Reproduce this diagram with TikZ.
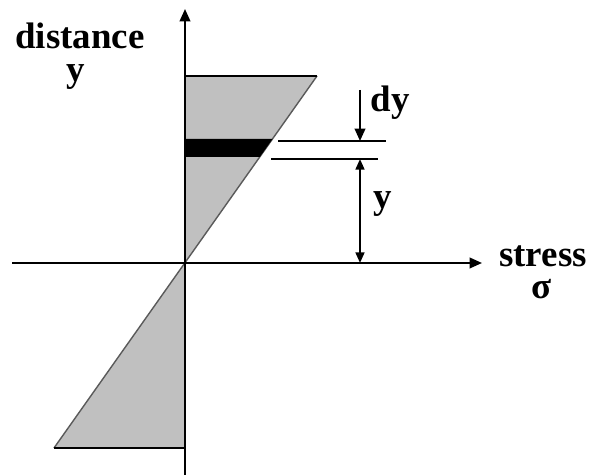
\documentclass[tikz,border=0pt]{standalone}
\usepackage{fontspec}
\setmainfont{Liberation Serif}
\usepackage{tikz}
\usetikzlibrary{arrows.meta, positioning, calc}
\definecolor{wedgegray}{RGB}{192,192,192}
\definecolor{edgegray}{RGB}{90,90,90}

\tikzset{
    axisline/.style={line width=1.1pt, -{Triangle[length=7pt,width=6pt]}},
    dimline/.style={line width=1.1pt, {Triangle[length=6pt,width=5pt]}-{Triangle[length=6pt,width=5pt]}},
    tickline/.style={line width=1.1pt},
    lbl/.style={font=\fontsize{21}{24}\selectfont\bfseries, inner sep=0pt, anchor=base},
    toplbl/.style={lbl, text depth=0pt},
    lowlbl/.style={lbl, text height=1ex}
}

\begin{document}
\begin{tikzpicture}[x=0.02cm, y=-0.02cm]
    \useasboundingbox (0,0) rectangle (592,475);
    % Axes points
    \coordinate (O) at (185,263);
    \coordinate (ytop) at (185,9);
    \coordinate (ybot) at (185,475);
    \coordinate (xleft) at (12,263);
    \coordinate (xright) at (482,263);
    \coordinate (T) at (317,76);
    \coordinate (Ttop) at (185,76);
    \coordinate (B) at (54,448);
    \coordinate (Bbot) at (185,448);

    % Stress wedges
    \fill[wedgegray] (O) -- (T) -- (Ttop) -- cycle;
    \fill[wedgegray] (O) -- (B) -- (Bbot) -- cycle;
    \draw[edgegray, line width=0.8pt] (B) -- (T);
    \draw[tickline] (Ttop) -- (T);
    \draw[tickline] (B) -- (Bbot);

    % Strip dy
    \fill[black] (185,139) -- (272.5,139) -- (259.8,157) -- (185,157) -- cycle;

    % Axes
    \draw[axisline] (ybot) -- (ytop);
    \draw[axisline] (xleft) -- (xright);

    % Dimension lines
    \coordinate (L1a) at (278,141);
    \coordinate (L1b) at (386,141);
    \coordinate (L2a) at (271,159);
    \coordinate (L2b) at (378,159);
    \draw[tickline] (L1a) -- (L1b);
    \draw[tickline] (L2a) -- (L2b);
    \coordinate (dystart) at (360,90);
    \coordinate (dyend) at (360,141);
    \draw[axisline] (dystart) -- (dyend);
    \coordinate (ya) at (360,159);
    \coordinate (yb) at (360,263);
    \draw[dimline] (ya) -- (yb);

    % Labels
    \node[toplbl] (distance) at (80,49) {distance};
    \node[lowlbl] (ylabel) at (76,82) {y};
    \node[toplbl] (stress) at (543,267) {stress};
    \node[lowlbl] (sigma) at (542,299) {σ};
    \node[lbl] (dy) at (390,112) {dy};
    \node[lbl] (yval) at (383,209) {y};
\end{tikzpicture}
\end{document}
